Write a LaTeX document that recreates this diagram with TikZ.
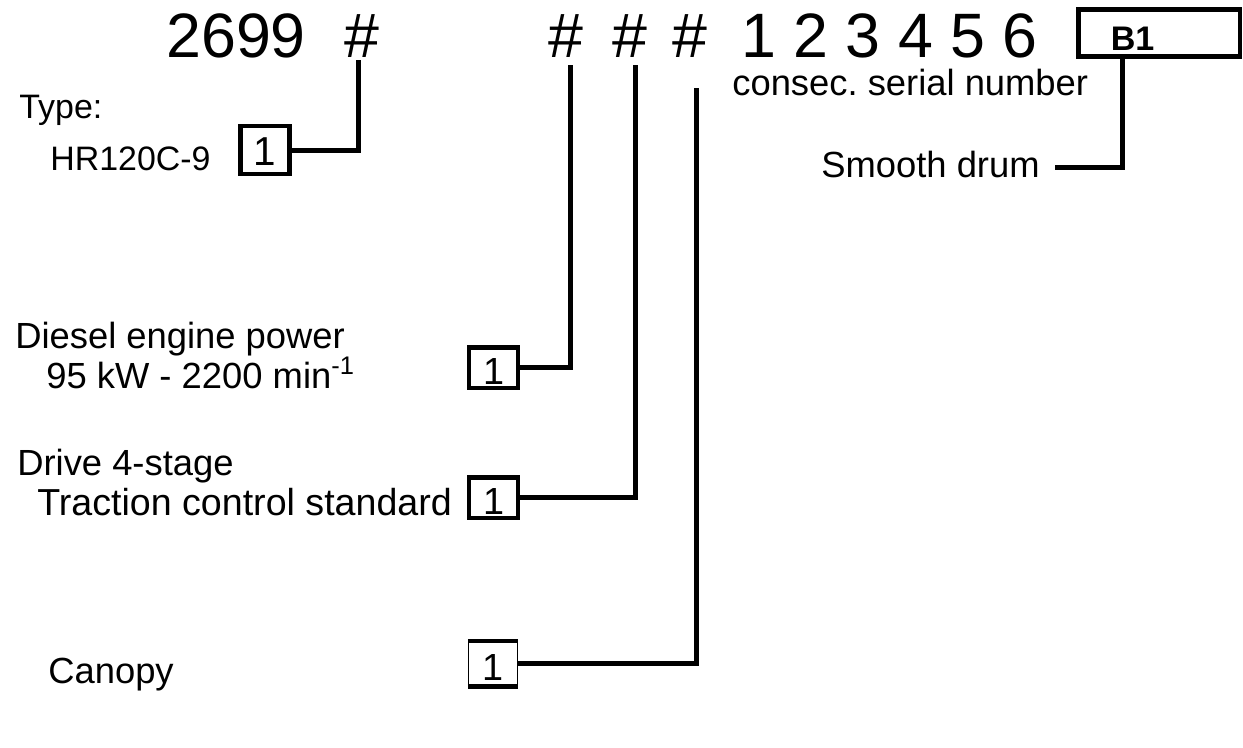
\documentclass[tikz,border=0pt]{standalone}
\usepackage{fontspec}
\setmainfont{Liberation Sans}
\frenchspacing
\begin{document}
\begin{tikzpicture}[
    x=0.02cm, y=-0.02cm,     % 1 unit = 1 pixel of the plate
    big/.style={font=\fontsize{35.7}{40}\selectfont, inner sep=0pt},
    lbl/.style={font=\fontsize{20.7}{24}\selectfont, inner sep=0pt, anchor=base west},
    numbox/.style={draw, line width=0.09cm, minimum width=0.98cm, minimum height=0.84cm,
        inner sep=0pt, text height=0.68cm, font=\fontsize{21.5}{24}\selectfont},
    wire/.style={line width=0.1cm}
]
\useasboundingbox (0,0) rectangle (1243,747);

    % --- 1. type code (top row) ---
    \node[big, anchor=base west] (code) at (166,57) {2699};
    \node[big, anchor=base] (h1) at (362,57) {\#};
    \node[big, anchor=base] (h2) at (566,57) {\#};
    \node[big, anchor=base] (h3) at (630,57) {\#};
    \node[big, anchor=base] (h4) at (690,57) {\#};
    \node[big, anchor=base west] (serial) at (741,57) {1 2 3 4 5 6};
    \node[draw, line width=0.09cm, minimum width=3.23cm, minimum height=0.95cm,
        text width=1.93cm, inner xsep=0.65cm, inner ysep=0pt, text height=0.72cm,
        align=left, font=\fontsize{19.4}{22}\selectfont\bfseries] (b1) at (1159,33) {B1};
    \node[lbl] (consec) at (732,95) {consec. serial number};

    % --- 2. labels and boxes ---
    \node[lbl, font=\fontsize{19.3}{22}\selectfont] (type) at (19,118) {Type:};
    \node[lbl, font=\fontsize{19.3}{22}\selectfont] (model) at (50,170) {HR120C-9};
    \node[numbox, minimum height=0.97cm, text height=0.62cm,
        font=\fontsize{23}{26}\selectfont] (tbox) at (265,150) {1};

    \node[lbl] (diesel) at (15,348) {Diesel engine power};
    \node[lbl] (power) at (46,388) {95 kW - 2200 min\textsuperscript{-1}};
    \node[numbox, minimum height=0.81cm] (dbox) at (493.5,367.5) {1};

    \node[lbl] (drive) at (17,475) {Drive 4-stage};
    \node[lbl, font=\fontsize{21.4}{24}\selectfont] (traction) at (37,515) {Traction control standard};
    \node[numbox, minimum height=0.81cm] (trbox) at (493.5,497.5) {1};

    \node[lbl] (canopy) at (48,683) {Canopy};
    \node[numbox, line width=0.03cm, minimum height=0.88cm] (cbox) at (493,663.5) {1};
    \draw[line width=0.09cm] (cbox.north west) -- (cbox.north east);
    \draw[line width=0.09cm] (cbox.south west) -- (cbox.south east);

    \node[lbl] (drum) at (821,177) {Smooth drum};

    % --- 3. leader lines ---
    \coordinate (top1) at (358,60);
    \coordinate (top2) at (570,65);
    \coordinate (top3) at (635,65);
    \coordinate (top4) at (696,88);
    \coordinate (b1foot) at (1122,59);
    \coordinate (drumtip) at (1055,167);

    \draw[wire] (tbox.east) -| (top1);
    \draw[wire] (dbox.east) -| (top2);
    \draw[wire] (trbox.east) -| (top3);
    \draw[wire] (cbox.east) -| (top4);
    \draw[wire] (drumtip) -| (b1foot);

\end{tikzpicture}
\end{document}
